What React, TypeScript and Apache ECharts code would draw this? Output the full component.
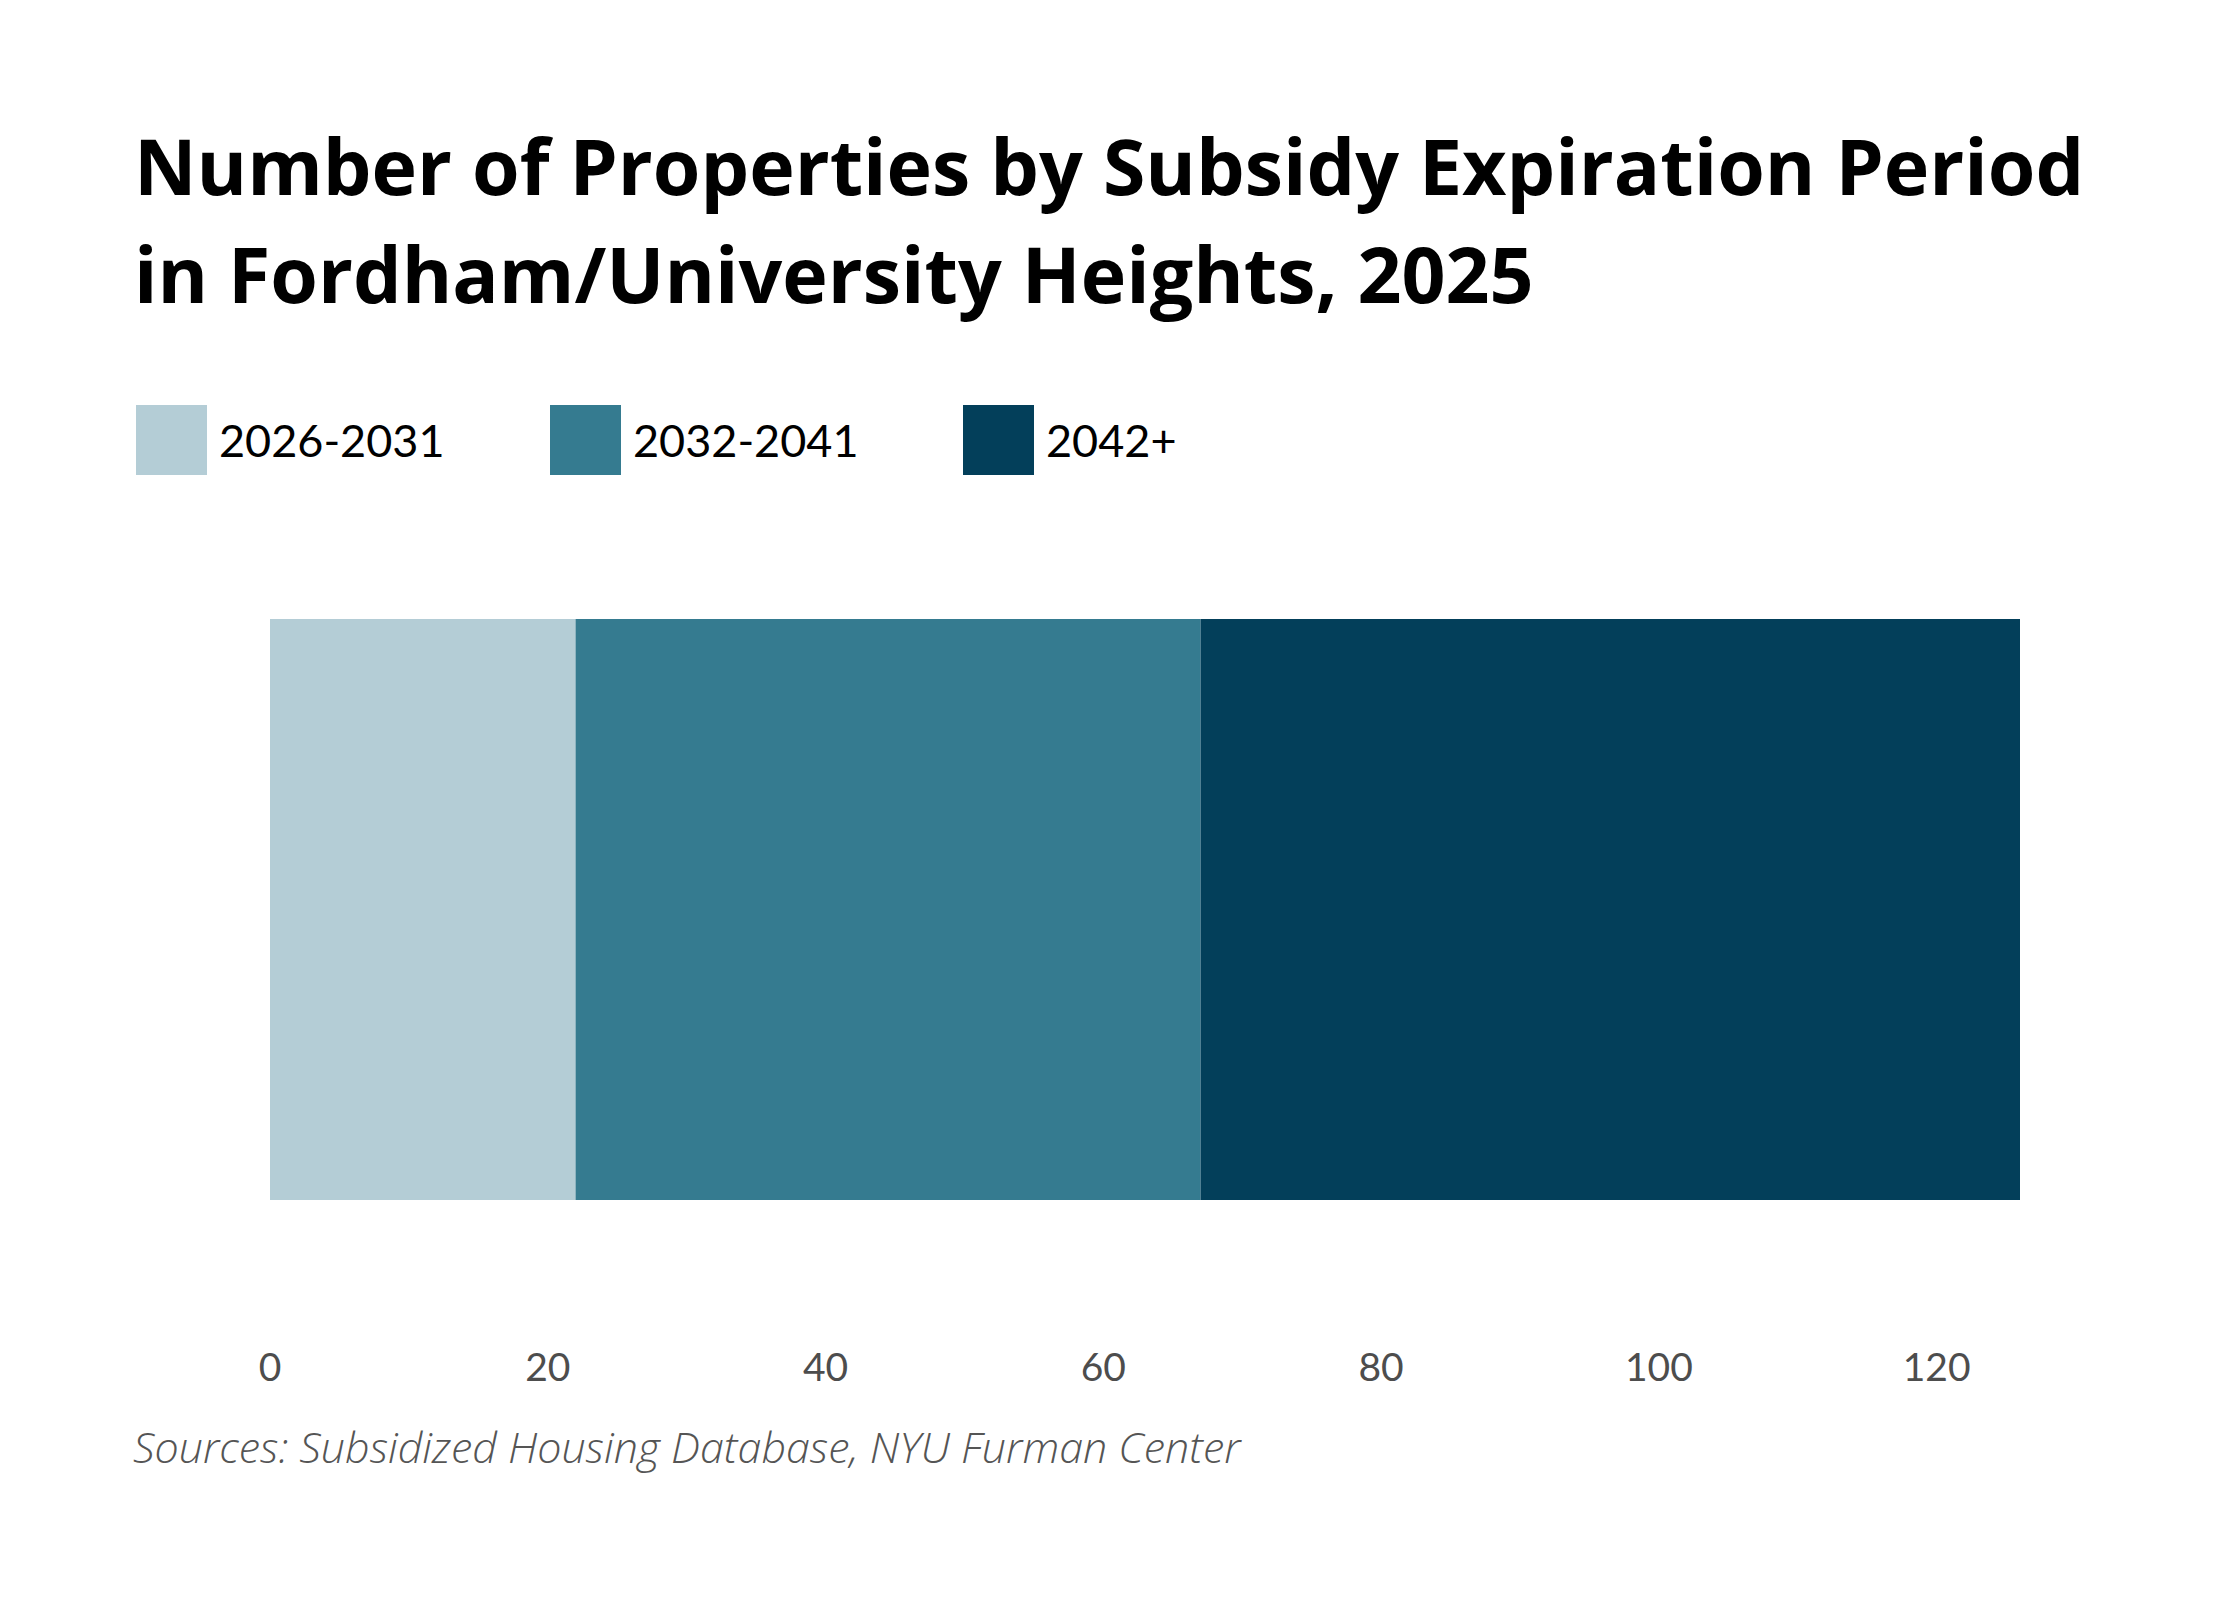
import React, { useEffect, useRef } from "react";
import * as echarts from "echarts";

const titleLines = [
  "Number of Properties by Subsidy Expiration Period",
  "in Fordham/University Heights, 2025",
];
const categories = ["Fordham/University Heights"];
const seriesNames = ["2026-2031", "2032-2041", "2042+"];
const values20262031 = [22];
const values20322041 = [45];
const values2042plus = [59];
const axisMax = 126;
const tickInterval = 20;
const sourceText = "Sources: Subsidized Housing Database, NYU Furman Center";

const colors = ["#b4cdd6", "#357b90", "#033f5a"];
const legendLefts = [136, 550, 963];

export default function App() {
  const ref = useRef<HTMLDivElement>(null);
  useEffect(() => {
    if (!ref.current) return;
    const chart = echarts.init(ref.current, undefined, { renderer: "svg" });
    const seriesValues = [values20262031, values20322041, values2042plus];
    chart.setOption({
      animation: false,
      backgroundColor: "#ffffff",
      title: {
        text: titleLines.join("\n"),
        left: 134,
        top: 111,
        padding: 0,
        textStyle: {
          fontFamily: "Open Sans",
          fontWeight: 700,
          fontSize: 77,
          lineHeight: 108,
          color: "#000000",
        },
      },
      legend: seriesNames.map((n, i) => ({
        data: [n],
        left: legendLefts[i],
        top: 405,
        padding: 0,
        icon: "rect",
        itemWidth: 71,
        itemHeight: 70,
        itemGap: 0,
        selectedMode: false,
        textStyle: {
          fontFamily: "Lato",
          fontSize: 45,
          color: "#000000",
          padding: [0, 0, 0, 7],
        },
      })),
      grid: { left: 270, right: 220, top: 619, height: 581, containLabel: false },
      xAxis: {
        type: "value",
        min: 0,
        max: axisMax,
        interval: tickInterval,
        axisLine: { show: false },
        axisTick: { show: false },
        splitLine: { show: false },
        axisLabel: {
          showMaxLabel: false,
          margin: 146,
          fontFamily: "Lato",
          fontSize: 39,
          color: "#4d4d4d",
        },
      },
      yAxis: {
        type: "category",
        data: categories,
        show: false,
      },
      series: seriesNames.map((n, i) => ({
        name: n,
        type: "bar",
        stack: "total",
        data: seriesValues[i],
        barCategoryGap: "0%",
        itemStyle: { color: colors[i] },
        emphasis: { disabled: true },
      })),
      graphic: [
        {
          type: "text",
          left: 133,
          top: 1425,
          style: {
            text: sourceText,
            fontFamily: "Open Sans",
            fontStyle: "italic",
            fontWeight: 300,
            fontSize: 43,
            fill: "#555555",
          },
        },
      ],
    });
    return () => chart.dispose();
  }, []);
  return (
    <div
      ref={ref}
      style={{ position: "fixed", left: 0, top: 0, width: 2240, height: 1600 }}
    />
  );
}
